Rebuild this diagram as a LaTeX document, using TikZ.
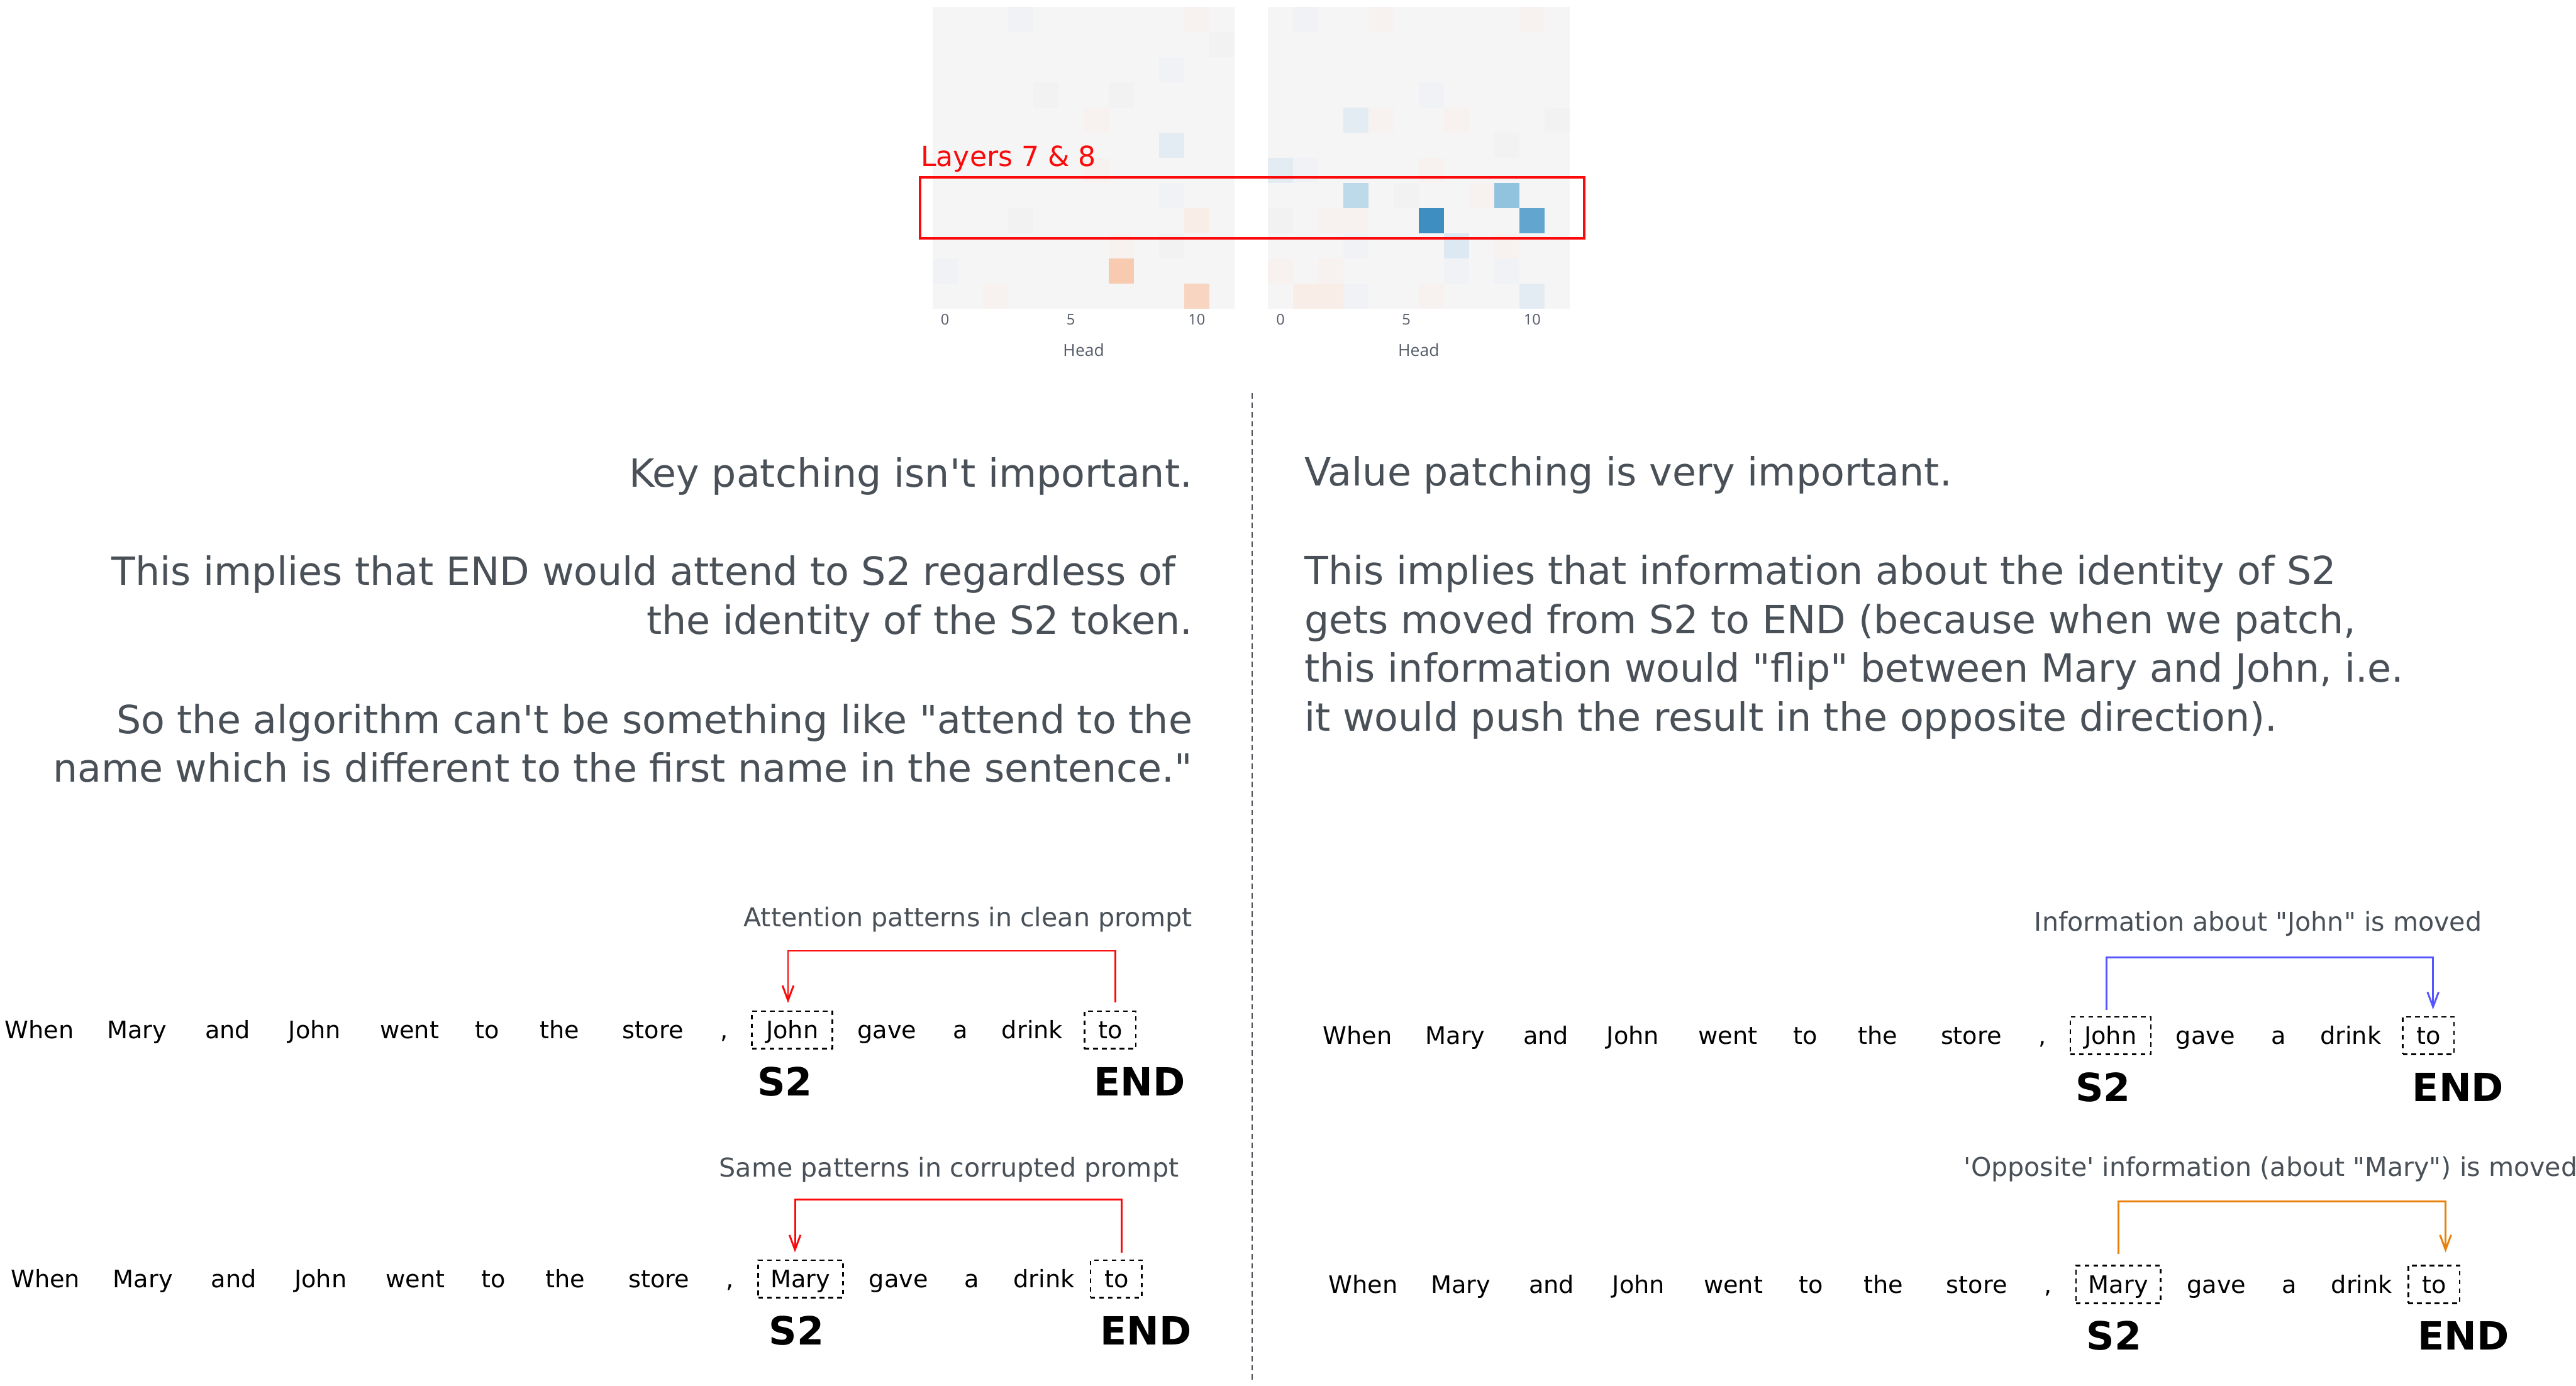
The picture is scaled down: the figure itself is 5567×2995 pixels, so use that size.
\documentclass[tikz,border=0pt]{standalone}
\usepackage{fontspec}
\setmainfont{DejaVu Sans}
\newfontfamily\handfont{DejaVu Sans}
\newfontfamily\plotfont{Open Sans}
\usetikzlibrary{arrows.meta,calc}
\definecolor{txt}{RGB}{73,80,87}
\definecolor{cellbg}{RGB}{245,245,245}
\definecolor{arrred}{RGB}{250,10,10}
\definecolor{arrblue}{RGB}{85,85,255}
\definecolor{arrorange}{RGB}{232,128,10}
\definecolor{ticktxt}{RGB}{85,92,105}
\definecolor{bla}{RGB}{240,242,245}
\definecolor{blb}{RGB}{228,236,243}
\definecolor{blc}{RGB}{220,233,242}
\definecolor{bld}{RGB}{188,218,234}
\definecolor{ble}{RGB}{146,195,222}
\definecolor{blf}{RGB}{98,166,207}
\definecolor{blg}{RGB}{63,142,194}
\definecolor{ora}{RGB}{247,242,239}
\definecolor{orb}{RGB}{248,237,231}
\definecolor{orc}{RGB}{248,213,192}
\definecolor{ord}{RGB}{248,203,176}
\definecolor{gra}{RGB}{242,242,242}
\newcommand\wordrow[5]{%
  \foreach \w/\x [count=\i] in {When/85,Mary/296,and/492,John/680,went/885,to/1053,the/1209,store/1411,{,}/1565}
    \node[word] (#1w\i) at (\x,2245) {\w};
  \foreach \w/\x [count=\i] in {gave/1917,a/2075,drink/2231}
    \node[word] (#1v\i) at (\x+#5,2245) {\w};
  \node[tokbox, minimum width=#3pt] (#1s) at (#4,2226) {};
  \node[word] (#1sw) at (#4,2245) {#2};
  \node[tokbox, minimum width=111pt] (#1t) at (2399,2226) {};
  \node[word] (#1tw) at (2400,2245) {to};
  \node[tag] (#1S) at (1696+#5,2368) {S2};
  \node[tag] (#1E) at (2463,2368) {END};
}
\begin{document}
\begin{tikzpicture}[x=1pt,y=-1pt,
  body/.style={text=txt, font=\handfont\fontsize{84}{100}\selectfont, inner sep=0pt},
  word/.style={font=\handfont\fontsize{52}{60}\selectfont, inner sep=0pt, anchor=base, text=black},
  lbl/.style={font=\handfont\fontsize{56}{64}\selectfont, text=txt, inner sep=0pt, anchor=base},
  tag/.style={font=\handfont\bfseries\fontsize{84}{90}\selectfont, inner sep=0pt, anchor=base, text=black},
  tokbox/.style={draw=black, line width=3.5pt, dash pattern=on 10pt off 9pt, minimum height=81pt, inner sep=0pt},
  conn/.style={line width=4pt, -{Straight Barb[length=32pt,width=24pt]}},
  tick/.style={font=\plotfont\fontsize{32}{36}\selectfont, text=ticktxt, inner sep=0pt},
  divider/.style={draw=txt, line width=4pt, dash pattern=on 12pt off 8pt}
]
\fill[white] (0,0) rectangle (5567,2995);
\useasboundingbox (0,0) rectangle (5567,2995);

% ---------- heatmaps ----------
\fill[cellbg] (2015,15) rectangle (2668,668);
\fill[cellbg] (2740,15) rectangle (3393,668);
\foreach \c/\r/\k in {3/0/bla,10/0/ora,11/1/gra,9/2/bla,4/3/gra,7/3/gra,6/4/ora,9/5/blb,6/6/ora,9/7/bla,3/8/gra,10/8/orb,7/9/ora,9/9/gra,7/10/ord,0/10/bla,10/11/orc,2/11/ora}
  \fill[\k] (2015+\c*54.4,15+\r*54.4) rectangle ++(54.4,54.4);
\foreach \c/\r/\k in {1/0/bla,4/0/ora,10/0/ora,6/3/bla,3/4/blb,4/4/ora,7/4/ora,11/4/gra,9/5/gra,0/6/blb,1/6/bla,6/6/ora,3/7/bld,5/7/gra,8/7/ora,9/7/ble,0/8/gra,2/8/ora,3/8/ora,6/8/blg,10/8/blf,3/9/bla,7/9/blc,9/9/ora,0/10/ora,2/10/ora,7/10/bla,9/10/bla,1/11/orb,2/11/orb,3/11/bla,6/11/ora,10/11/blb}
  \fill[\k] (2740+\c*54.4,15+\r*54.4) rectangle ++(54.4,54.4);
\foreach \h in {0,5,10} {
  \node[tick] (ta\h) at (2015+\h*54.4+27.2,691) {\h};
  \node[tick] (tb\h) at (2740+\h*54.4+27.2,691) {\h};
}
\node[tick, font=\plotfont\fontsize{36}{40}\selectfont] (heada) at (2342,756) {Head};
\node[tick, font=\plotfont\fontsize{36}{40}\selectfont] (headb) at (3066,756) {Head};
\draw[arrred, line width=5pt] (1988,383) rectangle (3424,515);
\node[anchor=base west, inner sep=0pt, text=arrred, font=\handfont\fontsize{60}{64}\selectfont] (layers) at (1990,359) {Layers 7 \& 8};

% ---------- divider ----------
\draw[divider] (2706,850) -- (2706,2982);

% ---------- left text ----------
\node[body, anchor=base east] (l1) at (2577,1053) {Key patching isn't important.};
\node[body, anchor=base east] (l2) at (2541,1264) {This implies that END would attend to S2 regardless of};
\node[body, anchor=base east] (l3) at (2577,1371) {the identity of the S2 token.};
\node[body, anchor=base east] (l4) at (2577,1585) {So the algorithm can't be something like "attend to the};
\node[body, anchor=base east] (l5) at (2577,1690) {name which is different to the first name in the sentence."};

% ---------- right text ----------
\node[body, anchor=base west] (r1) at (2819,1050) {Value patching is very important.};
\node[body, anchor=base west] (r2) at (2819,1263) {This implies that information about the identity of S2};
\node[body, anchor=base west] (r3) at (2819,1369) {gets moved from S2 to END (because when we patch,};
\node[body, anchor=base west] (r4) at (2819,1474) {this information would "flip" between Mary and John, i.e.};
\node[body, anchor=base west] (r5) at (2819,1580) {it would push the result in the opposite direction).};

% ---------- sentence rows ----------
\begin{scope}
  \wordrow{a}{John}{174}{1712}{0}
\end{scope}
\begin{scope}[shift={(13,538)}]
  \wordrow{b}{Mary}{183}{1717}{12}
\end{scope}
\begin{scope}[shift={(2849,12)}]
  \wordrow{c}{John}{174}{1712}{0}
\end{scope}
\begin{scope}[shift={(2861,550)}]
  \wordrow{d}{Mary}{183}{1717}{12}
\end{scope}

% ---------- labels ----------
\node[lbl] (la) at (2092,2002) {Attention patterns in clean prompt};
\node[lbl] (lb) at (2051,2543) {Same patterns in corrupted prompt};
\node[lbl] (lc) at (4880,2012) {Information about "John" is moved};
\node[lbl] (ld) at (4907,2542) {'Opposite' information (about "Mary") is moved};

% ---------- connectors ----------
\coordinate (ha) at (0,2055);
\coordinate (hb) at (0,2593);
\coordinate (hc) at (0,2069);
\coordinate (hd) at (0,2597);
\draw[conn, arrred, shorten <=18pt, shorten >=16pt] ([xshift=11pt]at.north) -- ([xshift=11pt]at.north |- ha) -| ([xshift=-9pt]as.north);
\draw[conn, arrred, shorten <=15pt, shorten >=15pt] ([xshift=12pt]bt.north) -- ([xshift=12pt]bt.north |- hb) -| ([xshift=-12pt]bs.north);
\draw[conn, arrblue, shorten <=13pt, shorten >=14pt] ([xshift=-9pt]cs.north) -- ([xshift=-9pt]cs.north |- hc) -| ([xshift=10pt]ct.north);
\draw[conn, arrorange, shorten <=23pt, shorten >=27pt] (ds.north) -- (ds.north |- hd) -| ([xshift=25pt]dt.north);
\end{tikzpicture}
\end{document}
